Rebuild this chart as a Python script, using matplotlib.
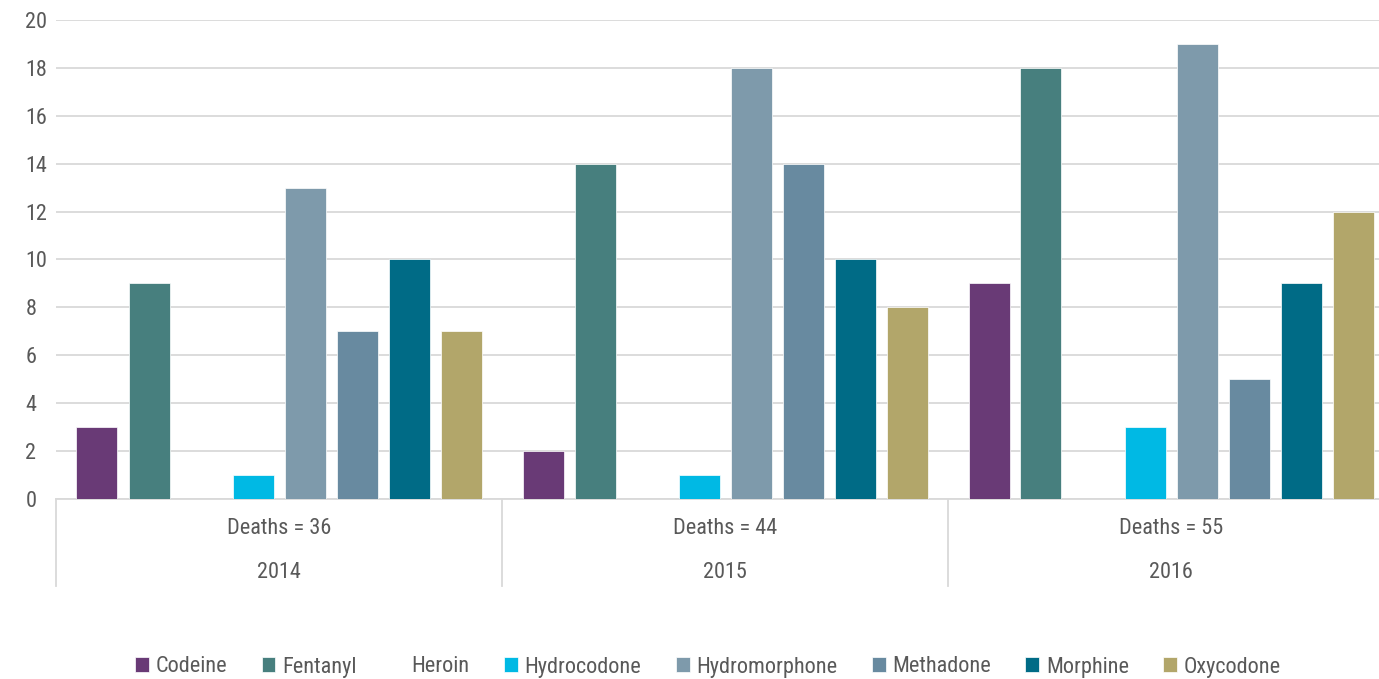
import matplotlib
matplotlib.use("Agg")
import matplotlib.pyplot as plt
import matplotlib.transforms as mtransforms
import numpy as np

# Data
years = ["2014", "2015", "2016"]
deaths_labels = ["Deaths = 36", "Deaths = 44", "Deaths = 55"]
drugs = ["Codeine", "Fentanyl", "Heroin", "Hydrocodone", "Hydromorphone",
         "Methadone", "Morphine", "Oxycodone"]
codeine = [3, 2, 9]
fentanyl = [9, 14, 18]
heroin = [0, 0, 0]
hydrocodone = [1, 1, 3]
hydromorphone = [13, 18, 19]
methadone = [7, 14, 5]
morphine = [10, 10, 9]
oxycodone = [7, 8, 12]
series = [codeine, fentanyl, heroin, hydrocodone, hydromorphone,
          methadone, morphine, oxycodone]
colors = ["#693A76", "#477F7E", "#FFFFFF", "#00B9E4", "#7E9AAB",
          "#688AA0", "#006B86", "#B2A66A"]

plt.rcParams["font.family"] = ["Roboto Condensed", "DejaVu Sans"]
text_color = "#595959"
grid_color = "#D9D9D9"
fs = 16

W, H = 1379, 679
fig = plt.figure(figsize=(W / 100, H / 100), dpi=100)
left, right, top, bottom = 56, 1394, 20, 499
ax = fig.add_axes([left / W, (H - bottom) / H, (right - left) / W, (bottom - top) / H])

n = len(series)
step = 52 / 446
width = 41 / 446
centers = np.arange(len(years)) + 0.5
for i, (vals, col, name) in enumerate(zip(series, colors, drugs)):
    ax.bar(centers + (i - (n - 1) / 2) * step, vals, width=width, color=col,
           edgecolor="white", linewidth=0.5, label=name, zorder=3)

ax.set_xlim(0, len(years))
ax.set_ylim(0, 20)
ax.set_yticks(np.arange(0, 21, 2))
ax.set_xticks([])
ax.grid(axis="y", color=grid_color, linewidth=1.3, zorder=0)
for s in ["top", "right", "left"]:
    ax.spines[s].set_visible(False)
ax.spines["bottom"].set_color(grid_color)
ax.spines["bottom"].set_linewidth(1.3)
ax.tick_params(axis="y", length=0, pad=22, labelsize=fs, labelcolor=text_color)
for lbl in ax.get_yticklabels():
    lbl.set_horizontalalignment("left")

# Two-level category labels below the axis
trans = mtransforms.blended_transform_factory(ax.transData, ax.transAxes)
ah = bottom - top
for k in range(len(years) + 1):
    ax.plot([k, k], [0, -87 / ah], transform=trans, color=grid_color,
            linewidth=1.3, clip_on=False)
for k, (yr, dl) in enumerate(zip(years, deaths_labels)):
    ax.text(centers[k], -30 / ah, dl, transform=trans, ha="center", va="center",
            fontsize=fs, color=text_color)
    ax.text(centers[k], -74 / ah, yr, transform=trans, ha="center", va="center",
            fontsize=fs, color=text_color)

leg = fig.legend(loc="center", bbox_to_anchor=(708 / W, (H - 667) / H), ncol=n,
                 frameon=False, fontsize=fs, handlelength=0.62, handleheight=0.62,
                 handletextpad=0.3, columnspacing=1.55, labelcolor=text_color)

fig.savefig("out.png", dpi=100, facecolor="white")
